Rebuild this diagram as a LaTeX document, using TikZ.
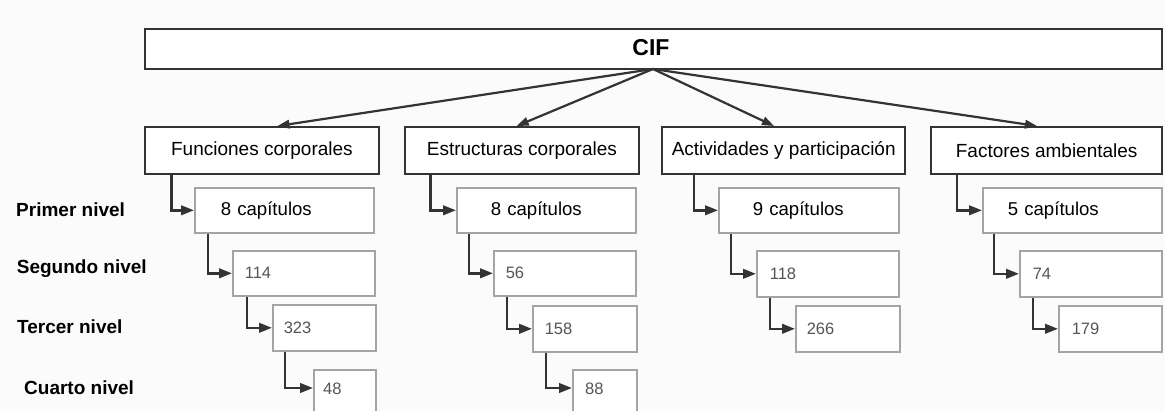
\documentclass[tikz,border=0pt]{standalone}
\usepackage{fontspec}
\setmainfont{Liberation Sans}
\usetikzlibrary{arrows.meta}
\definecolor{bgcol}{HTML}{FBFBFB}
\definecolor{dark}{HTML}{333333}
\definecolor{subgray}{HTML}{A4A4A4}
\definecolor{numgray}{HTML}{555555}
\tikzset{
  topbox/.style={draw=dark, line width=2.4pt, fill=white, anchor=north west, inner sep=0pt},
  catbox/.style={draw=dark, line width=2.4pt, fill=white, anchor=north west, minimum height=47,
    font=\fontsize{19}{22}\selectfont, inner xsep=2pt},
  subbox/.style={draw=subgray, line width=1.6pt, fill=white, anchor=north west, align=left},
  pbox/.style={subbox, minimum height=45, font=\fontsize{18.6}{22}\selectfont},
  nbox/.style={subbox, font=\fontsize{16.5}{19}\selectfont\color{numgray}},
  numtxt/.style={font=\fontsize{16.5}{19}\selectfont\color{numgray}, anchor=west, inner sep=0pt},
  lvl/.style={anchor=west, font=\fontsize{19}{22}\selectfont\bfseries, inner sep=0pt},
  conn/.style={draw=dark, line width=2.5pt, -{Triangle[length=13pt,width=9.5pt]}},
  topconn/.style={draw=dark, line width=2.2pt, -{Triangle[length=12pt,width=8.5pt]}}
}
\begin{document}
\begin{tikzpicture}[x=1pt,y=-1pt]
\fill[bgcol] (0,0) rectangle (1165,411);
\useasboundingbox (0,0) rectangle (1165,411);

% top box
\node[topbox, minimum width=1017.5, minimum height=40] (cif) at (143.5,28) {};
\node[font=\fontsize{23}{26}\selectfont\bfseries] (ciftxt) at (651,48) {CIF};
\coordinate (root) at (653,69);

% category boxes
\node[catbox, minimum width=234.5] (c1) at (143.5,126) {Funciones corporales};
\node[catbox, minimum width=234] (c2) at (403.7,126) {Estructuras corporales};
\node[catbox, minimum width=243] (c3) at (661,126) {Actividades y participación};
\node[catbox, minimum width=231] (c4) at (930,126) {Factores ambientales};

\draw[topconn] (root) -- ([xshift=134]c1.north west);
\draw[topconn] (root) -- ([xshift=113]c2.north west);
\draw[topconn] (root) -- ([xshift=113]c3.north west);
\draw[topconn] (root) -- ([xshift=107]c4.north west);

% level labels
\node[lvl] (l1) at (16,210) {Primer nivel};
\node[lvl] (l2) at (16.7,269) {Segundo nivel};
\node[lvl] (l3) at (17,327) {Tercer nivel};
\node[lvl] (l4) at (24,388) {Cuarto nivel};

% column 1
\node[pbox, inner xsep=26, text width=127] (p1) at (194,187) {8 capítulos};
\node[nbox, minimum height=45, inner xsep=12, text width=118] (s1) at (232,250) {114};
\node[nbox, minimum height=46, inner xsep=11, text width=81] (t1) at (272,304) {323};
\node[nbox, minimum height=52, inner xsep=10, text width=42] (q1) at (313,369) {};
\node[numtxt] (q1t) at (323,389) {48};

% column 2
\node[pbox, inner xsep=34, text width=111] (p2) at (456,187) {8 capítulos};
\node[nbox, minimum height=45, inner xsep=12, text width=118] (s2) at (493,250) {56};
\node[nbox, minimum height=46, inner xsep=12, text width=80] (t2) at (532,305) {158};
\node[nbox, minimum height=52, inner xsep=13, text width=38] (q2) at (572,369) {};
\node[numtxt] (q2t) at (585,389) {88};

% column 3
\node[pbox, inner xsep=34, text width=112] (p3) at (718,187) {9 capítulos};
\node[nbox, minimum height=46, inner xsep=13, text width=116] (s3) at (756,250) {118};
\node[nbox, minimum height=46, inner xsep=11, text width=82] (t3) at (795,305) {266};

% column 4
\node[pbox, inner xsep=25, text width=129] (p4) at (982,187) {5 capítulos};
\node[nbox, minimum height=46, inner xsep=13, text width=116] (s4) at (1019,250) {74};
\node[nbox, minimum height=46, inner xsep=13, text width=77] (t4) at (1058,305) {179};

% elbow connectors
\draw[conn] ([xshift=28]c1.south west) |- (p1.west);
\draw[conn] ([xshift=14]p1.south west) |- (s1.west);
\draw[conn] ([xshift=15]s1.south west) |- (t1.west);
\draw[conn] ([xshift=13]t1.south west) |- ([yshift=-19]q1.north west);

\draw[conn] ([xshift=27]c2.south west) |- (p2.west);
\draw[conn] ([xshift=13]p2.south west) |- (s2.west);
\draw[conn] ([xshift=14]s2.south west) |- (t2.west);
\draw[conn] ([xshift=14]t2.south west) |- ([yshift=-19]q2.north west);

\draw[conn] ([xshift=33]c3.south west) |- (p3.west);
\draw[conn] ([xshift=13]p3.south west) |- (s3.west);
\draw[conn] ([xshift=14]s3.south west) |- (t3.west);

\draw[conn] ([xshift=27]c4.south west) |- (p4.west);
\draw[conn] ([xshift=12]p4.south west) |- (s4.west);
\draw[conn] ([xshift=14]s4.south west) |- (t4.west);
\end{tikzpicture}
\end{document}
